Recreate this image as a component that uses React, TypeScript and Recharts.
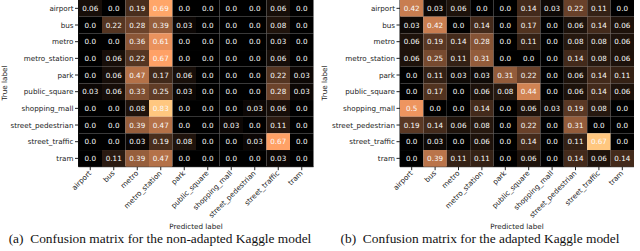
import { ScatterChart, Scatter, XAxis, YAxis } from 'recharts'

const classes = [
  'airport',
  'bus',
  'metro',
  'metro_station',
  'park',
  'public_square',
  'shopping_mall',
  'street_pedestrian',
  'street_traffic',
  'tram',
]

// rows = true label, cols = predicted label
const nonAdapted = [
  [0.06, 0.0, 0.19, 0.69, 0.0, 0.0, 0.0, 0.0, 0.06, 0.0],
  [0.0, 0.22, 0.28, 0.39, 0.03, 0.0, 0.0, 0.0, 0.08, 0.0],
  [0.0, 0.0, 0.36, 0.61, 0.0, 0.0, 0.0, 0.0, 0.03, 0.0],
  [0.0, 0.06, 0.22, 0.67, 0.0, 0.0, 0.0, 0.0, 0.06, 0.0],
  [0.0, 0.06, 0.47, 0.17, 0.06, 0.0, 0.0, 0.0, 0.22, 0.03],
  [0.03, 0.06, 0.33, 0.25, 0.03, 0.0, 0.0, 0.0, 0.28, 0.03],
  [0.0, 0.0, 0.08, 0.83, 0.0, 0.0, 0.0, 0.03, 0.06, 0.0],
  [0.0, 0.0, 0.39, 0.47, 0.0, 0.0, 0.03, 0.0, 0.11, 0.0],
  [0.0, 0.0, 0.03, 0.19, 0.08, 0.0, 0.0, 0.03, 0.67, 0.0],
  [0.0, 0.11, 0.39, 0.47, 0.0, 0.0, 0.0, 0.0, 0.03, 0.0],
]

const adapted = [
  [0.42, 0.03, 0.06, 0.0, 0.0, 0.14, 0.03, 0.22, 0.11, 0.0],
  [0.03, 0.42, 0.0, 0.14, 0.0, 0.17, 0.0, 0.06, 0.14, 0.06],
  [0.06, 0.19, 0.14, 0.28, 0.0, 0.11, 0.0, 0.08, 0.08, 0.06],
  [0.06, 0.25, 0.11, 0.31, 0.0, 0.0, 0.0, 0.14, 0.08, 0.06],
  [0.0, 0.11, 0.03, 0.03, 0.31, 0.22, 0.0, 0.06, 0.14, 0.11],
  [0.0, 0.17, 0.0, 0.06, 0.08, 0.44, 0.0, 0.06, 0.14, 0.06],
  [0.5, 0.0, 0.0, 0.14, 0.0, 0.06, 0.03, 0.19, 0.08, 0.0],
  [0.19, 0.14, 0.06, 0.08, 0.0, 0.22, 0.0, 0.31, 0.0, 0.0],
  [0.0, 0.03, 0.0, 0.06, 0.0, 0.14, 0.0, 0.11, 0.67, 0.0],
  [0.0, 0.39, 0.11, 0.11, 0.0, 0.06, 0.0, 0.14, 0.06, 0.14],
]

const ticks = classes.map((_, i) => i)
const font = '"DejaVu Sans", sans-serif'
const H = 251
const plotH = 166.7

// matplotlib "copper"
function copper(t: number) {
  const r = Math.min(1, 1.25 * t) * 255
  const g = 0.7812 * t * 255
  const b = 0.4975 * t * 255
  return `rgb(${Math.round(r)},${Math.round(g)},${Math.round(b)})`
}

const fmt = (v: number) => (v === 0 ? '0.0' : String(v))

function XTick({ x, y, payload }: any) {
  return (
    <g transform={`translate(${x + 1.5},${y + 1.5})`}>
      <text transform="rotate(-45)" textAnchor="end" fontSize={7.2} fontFamily={font} fill="#222">
        {classes[payload.value]}
      </text>
    </g>
  )
}

function Matrix({ data, left, axisW, rightPad, caption }: any) {
  const chartW = 320
  const plotW = chartW - axisW - rightPad
  const cw = plotW / 10
  const ch = plotH / 10
  const max = Math.max(...data.flat())
  const points = data.flatMap((row: number[], i: number) => row.map((v, j) => ({ x: j, y: i, v })))

  const cell = (p: any) => {
    const { cx, cy, payload } = p
    return (
      <g>
        <rect x={cx - cw / 2} y={cy - ch / 2} width={cw} height={ch} fill={copper(payload.v / max)} />
        <text x={cx} y={cy + 2.6} textAnchor="middle" fontSize={7.2} fontFamily={font} fill="#fafafa">
          {fmt(payload.v)}
        </text>
      </g>
    )
  }

  return (
    <div style={{ position: 'absolute', left, top: 0, width: chartW, height: H }}>
      <ScatterChart width={chartW} height={H} margin={{ top: 0, right: rightPad, bottom: 0, left: 0 }}>
        <XAxis
          type="number"
          dataKey="x"
          domain={[-0.5, 9.5]}
          ticks={ticks}
          interval={0}
          height={H - plotH}
          tick={<XTick />}
          tickSize={3.5}
          tickMargin={2}
          tickLine={{ stroke: '#222' }}
          axisLine={{ stroke: '#111' }}
        />
        <YAxis
          type="number"
          dataKey="y"
          reversed
          domain={[-0.5, 9.5]}
          ticks={ticks}
          interval={0}
          width={axisW}
          tickFormatter={(i: number) => classes[i]}
          tick={{ fontSize: 7.2, fontFamily: font, fill: '#222' }}
          tickSize={3.5}
          tickMargin={1.5}
          tickLine={{ stroke: '#222' }}
          axisLine={{ stroke: '#111' }}
        />
        <Scatter data={points} shape={cell} isAnimationActive={false} />
      </ScatterChart>
      <div
        style={{
          position: 'absolute',
          left: -20,
          top: plotH / 2 - 5,
          width: 50,
          textAlign: 'center',
          transform: 'rotate(-90deg)',
          fontFamily: font,
          fontSize: 7.2,
          color: '#222',
          lineHeight: '10px',
        }}
      >
        True label
      </div>
      <div
        style={{
          position: 'absolute',
          left: axisW,
          width: plotW,
          top: 221.5,
          textAlign: 'center',
          fontFamily: font,
          fontSize: 7.2,
          color: '#222',
          lineHeight: '10px',
        }}
      >
        Predicted label
      </div>
      <div
        style={{
          position: 'absolute',
          left: 0,
          width: chartW,
          top: 230,
          textAlign: 'center',
          fontFamily: '"Liberation Serif", serif',
          fontSize: 13.4,
          color: '#111',
          whiteSpace: 'pre',
          lineHeight: '17px',
        }}
      >
        {caption}
      </div>
    </div>
  )
}

export default function App() {
  return (
    <div style={{ position: 'absolute', left: 0, top: 0, width: 640, height: H, background: '#fff', overflow: 'hidden' }}>
      <Matrix data={nonAdapted} left={0} axisW={78.5} rightPad={6.5} caption="(a)  Confusion matrix for the non-adapted Kaggle model" />
      <Matrix data={adapted} left={320} axisW={80} rightPad={6} caption="(b)  Confusion matrix for the adapted Kaggle model" />
    </div>
  )
}
